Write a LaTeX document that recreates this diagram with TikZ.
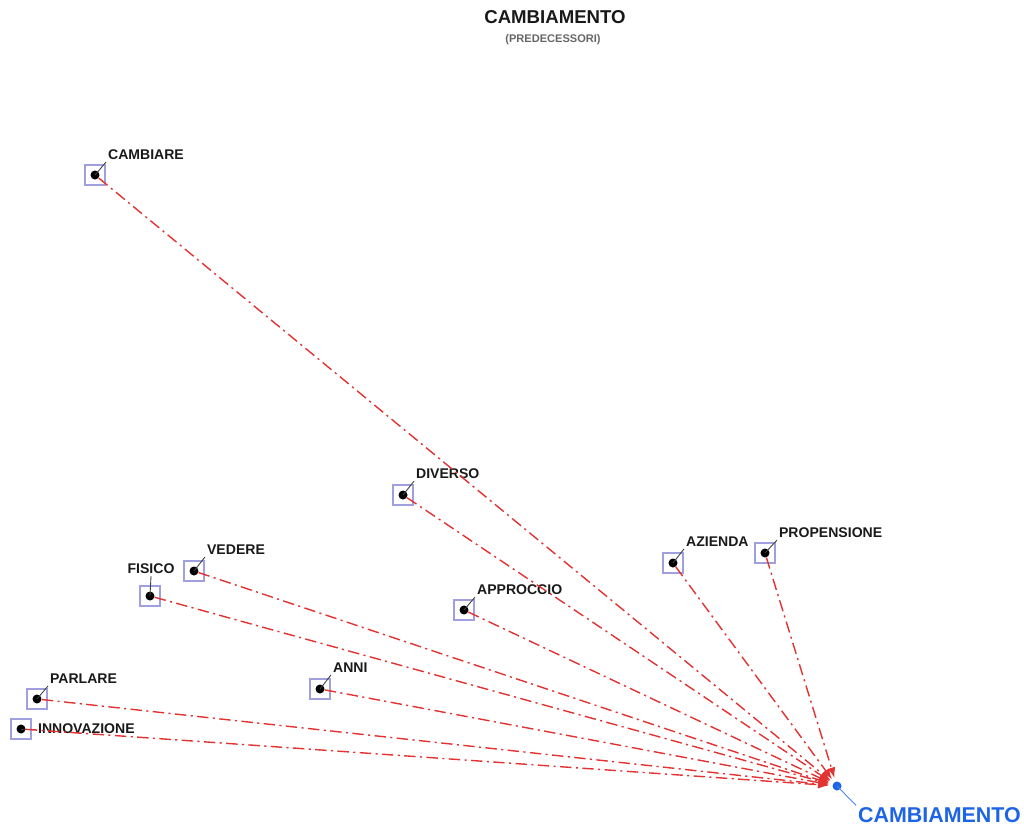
\documentclass[tikz,border=0pt]{standalone}
\usepackage{fontspec}
\setmainfont{Liberation Sans}
\usepackage{tikz}
\usetikzlibrary{arrows.meta}
\definecolor{boxcol}{RGB}{160,160,225}
\definecolor{arrcol}{RGB}{226,50,50}
\definecolor{tgtcol}{RGB}{30,100,230}

\tikzset{
  word/.style={inner sep=1pt,font=\fontsize{8}{9}\selectfont\bfseries,text=black!90},
  pbox/.style={draw=boxcol,line width=0.6pt,minimum size=0.4cm,inner sep=0pt},
  pdot/.style={circle,fill=black,minimum size=0.18cm,inner sep=0pt},
  leader/.style={black!75,line width=0.5pt},
  pred/.style={arrcol,line width=0.8pt,dash pattern=on 6.5pt off 2.5pt on 1.2pt off 2.5pt,
    -{Latex[length=6pt,width=4.5pt]},shorten >=2pt}
}

\begin{document}
\begin{tikzpicture}[x=0.02cm,y=-0.02cm]
\useasboundingbox (0,0) rectangle (1024,825);
% title
\node[font=\fontsize{10.6}{12}\selectfont\bfseries,text=black!90] (title) at (555,17) {CAMBIAMENTO};
\node[font=\fontsize{6.3}{7}\selectfont\bfseries,text=black!60] (subtitle) at (553,40) {(PREDECESSORI)};

% predecessors
\node[pbox] at (95,175) {};   \node[pdot] (cambiare) at (95,175) {};
\node[pbox] at (403,495) {};  \node[pdot] (diverso) at (403,495) {};
\node[pbox] at (194,571) {};  \node[pdot] (vedere) at (194,571) {};
\node[pbox] at (150,596) {};  \node[pdot] (fisico) at (150,596) {};
\node[pbox] at (464,610) {};  \node[pdot] (approccio) at (464,610) {};
\node[pbox] at (673,563) {};  \node[pdot] (azienda) at (673,563) {};
\node[pbox] at (765,553) {};  \node[pdot] (propensione) at (765,553) {};
\node[pbox] at (37,699) {};   \node[pdot] (parlare) at (37,699) {};
\node[pbox] at (320,689) {};  \node[pdot] (anni) at (320,689) {};
\node[pbox] at (21,729) {};   \node[pdot] (innovazione) at (21,729) {};

% target
\node[circle,fill=tgtcol,minimum size=0.18cm,inner sep=0pt] (cambiamento) at (837,786) {};

% labels
\node[word,anchor=west] (cambiare-l) at (106,155) {CAMBIARE};
\node[word,anchor=west] (diverso-l) at (414,474) {DIVERSO};
\node[word,anchor=west] (vedere-l) at (205,550) {VEDERE};
\node[word] (fisico-l) at (151,569) {FISICO};
\node[word,anchor=west] (approccio-l) at (475,590) {APPROCCIO};
\node[word,anchor=west] (azienda-l) at (684,542) {AZIENDA};
\node[word,anchor=west] (propensione-l) at (777,533) {PROPENSIONE};
\node[word,anchor=west] (parlare-l) at (48,679) {PARLARE};
\node[word,anchor=west] (anni-l) at (331,668) {ANNI};
\node[word,anchor=west] (innovazione-l) at (36,729) {INNOVAZIONE};
\node[font=\fontsize{12.2}{14}\selectfont\bfseries,text=tgtcol,anchor=west,inner sep=1pt] (cambiamento-l) at (856,815) {CAMBIAMENTO};

% leaders
\foreach \n in {cambiare,diverso,vedere,approccio,azienda,propensione,parlare,anni}
  \draw[leader] (\n.center) -- (\n-l.south west);
\draw[leader] (fisico.center) -- (fisico-l.south);
\draw[leader] (innovazione.center) -- (innovazione-l.west);
\draw[tgtcol!80,line width=0.5pt] (cambiamento.center) -- (cambiamento-l.north west);

% arrows
\foreach \n in {cambiare,diverso,vedere,fisico,approccio,azienda,propensione,parlare,anni,innovazione}
  \draw[pred] (\n) -- (cambiamento);
\end{tikzpicture}
\end{document}
